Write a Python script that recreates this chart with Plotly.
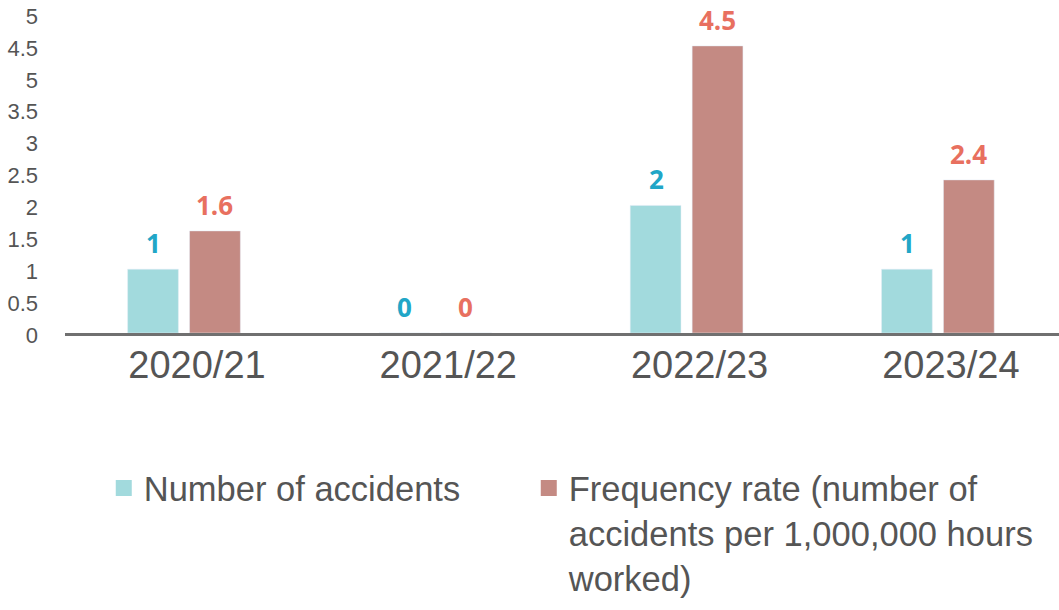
import plotly.graph_objects as go

categories = ["2020/21", "2021/22", "2022/23", "2023/24"]
accidents = [1, 0, 2, 1]
frequency_rate = [1.6, 0, 4.5, 2.4]
y_tick_vals = [0, 0.5, 1, 1.5, 2, 2.5, 3, 3.5, 4, 4.5, 5]
y_tick_text = ["0", "0.5", "1", "1.5", "2", "2.5", "3", "3.5", "5", "4.5", "5"]
series_names = ["Number of accidents",
                "Frequency rate (number of<br>accidents per 1,000,000 hours<br>worked)"]

bar_colors = ["#a2dadd", "#c48a83"]
label_colors = ["#21a6c7", "#e8705f"]
TEXT_FONT = "Liberation Sans, Arial, sans-serif"

fig = go.Figure()
for vals, color in zip([accidents, frequency_rate], bar_colors):
    fig.add_trace(go.Bar(x=categories, y=vals, marker_color=color,
                         showlegend=False, hoverinfo="x+y"))

# legend proxies (larger square symbols)
for name, color, lw in zip(series_names, bar_colors, [380, None]):
    fig.add_trace(go.Scatter(x=[None], y=[None], mode="markers", name=name,
                             marker=dict(symbol="square", size=16, color=color),
                             legendwidth=lw))

# value labels
for vals, color, shift in zip([accidents, frequency_rate], label_colors, [-30.5, 30.5]):
    for c, v in zip(categories, vals):
        fig.add_annotation(x=c, y=v, text=f"{v:g}", showarrow=False,
                           xref="x", yref="y", yanchor="bottom",
                           xshift=shift, yshift=6,
                           font=dict(family="Open Sans, sans-serif", size=26,
                                     color=color, weight="bold"))

fig.update_layout(
    width=1059, height=610,
    margin=dict(l=65, r=0, t=14, b=277),
    paper_bgcolor="white", plot_bgcolor="white",
    barmode="group", bargap=0.507, bargroupgap=0.18,
    font=dict(family=TEXT_FONT, color="#555555"),
    legend=dict(orientation="h", x=0.039, xanchor="left", y=-0.395, yanchor="top",
                valign="top", font=dict(family=TEXT_FONT, size=34.5, color="#555555"),
                bgcolor="rgba(0,0,0,0)"),
    xaxis=dict(type="category", range=[-0.4735, 3.482], showgrid=False,
               showline=True, linecolor="#707070", linewidth=3,
               ticks="", tickfont=dict(size=38, color="#555555"),
               ticklabelstandoff=-4, ticklabelshift=13, zeroline=False),
    yaxis=dict(range=[0, 5], tickvals=y_tick_vals, ticktext=y_tick_text,
               showgrid=False, zeroline=False, showline=False, ticks="",
               tickfont=dict(size=22, color="#555555"), ticklabelstandoff=26,
               ticklabelshift=2),
)

fig.write_html("out.html", config={"displayModeBar": False},
               post_script="document.body.style.margin='0';")
